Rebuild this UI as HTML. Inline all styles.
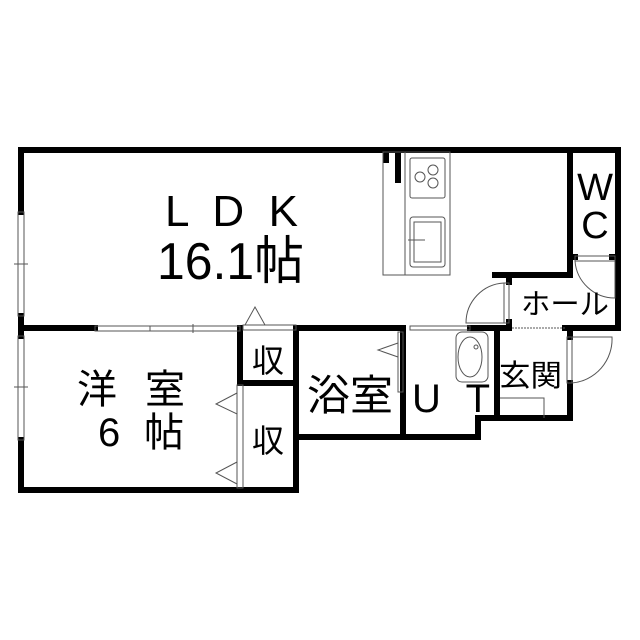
<!DOCTYPE html>
<html><head><meta charset="utf-8"><style>body{margin:0;background:#fff}svg{display:block}</style></head>
<body>
<svg width="640" height="640" viewBox="0 0 640 640" xmlns="http://www.w3.org/2000/svg" font-family="'Liberation Sans','Noto Sans CJK JP',sans-serif">
<rect width="640" height="640" fill="#fff"/>
<g stroke="#000" stroke-width="6" fill="none" stroke-linecap="square">
<line x1="21" y1="150" x2="618" y2="150"/>
<line x1="21" y1="150" x2="21" y2="212"/>
<line x1="21" y1="316" x2="21" y2="336"/>
<line x1="21" y1="440" x2="21" y2="490"/>
<line x1="21" y1="490" x2="296" y2="490"/>
<line x1="296" y1="328" x2="296" y2="490"/>
<line x1="21" y1="328" x2="95" y2="328"/>
<line x1="240" y1="328" x2="240" y2="383"/>
<line x1="240" y1="383" x2="296" y2="383"/>
<line x1="296" y1="328" x2="403" y2="328"/>
<line x1="296" y1="437" x2="478" y2="437"/>
<line x1="403" y1="328" x2="403" y2="437"/>
<line x1="478" y1="437" x2="478" y2="418"/>
<line x1="478" y1="418" x2="570" y2="418"/>
<line x1="497" y1="328" x2="497" y2="418"/>
<line x1="470" y1="328" x2="509" y2="328"/>
<line x1="570" y1="150" x2="570" y2="257"/>
<line x1="618" y1="150" x2="618" y2="328"/>
<line x1="570" y1="257" x2="575" y2="257"/>
<line x1="612" y1="257" x2="618" y2="257"/>
<line x1="495" y1="275" x2="570" y2="275"/>
<line x1="570" y1="260" x2="570" y2="275"/>
<line x1="509" y1="275" x2="509" y2="282"/>
<line x1="509" y1="322" x2="509" y2="328"/>
<line x1="565" y1="328" x2="618" y2="328"/>
<line x1="570" y1="328" x2="570" y2="337"/>
<line x1="570" y1="383" x2="570" y2="418"/>
<line x1="386" y1="150" x2="386" y2="160"/>
<line x1="398" y1="150" x2="398" y2="180"/>
</g>
<g stroke="#555" stroke-width="1" fill="none">
<rect x="18" y="212" width="6" height="104"/>
<rect x="18" y="336" width="6" height="104"/>
<line x1="14" y1="264" x2="28" y2="264"/>
<line x1="14" y1="387" x2="28" y2="387"/>
<rect x="95" y="326" width="145" height="5"/>
<line x1="150" y1="326" x2="150" y2="331"/>
<line x1="193" y1="324" x2="193" y2="333"/>
<rect x="243" y="325" width="53" height="5"/>
<polygon points="245,325 255,307 265,325"/>
<rect x="383" y="152" width="67" height="123"/>
<line x1="405" y1="152" x2="405" y2="275"/>
<rect x="410" y="158" width="35" height="40" rx="2"/>
<circle cx="420" cy="177" r="5"/><circle cx="433" cy="170" r="5"/><circle cx="433" cy="183" r="5"/>
<rect x="410" y="217" width="35" height="50" rx="3"/>
<rect x="414" y="222" width="27" height="40"/>
<line x1="408" y1="240" x2="425" y2="240"/>
<rect x="504" y="283" width="5" height="40"/>
<path d="M504 283 A40 40 0 0 0 466 323 L504 323"/>
<rect x="575" y="256" width="40" height="5"/>
<path d="M615 261 L615 298 A40 40 0 0 1 575 261"/>
<rect x="567" y="337" width="5" height="46"/>
<path d="M572 337 L612 337 A44 44 0 0 1 572 383"/>
<line x1="512" y1="328" x2="565" y2="328" stroke-dasharray="2 1"/>
<rect x="410" y="326" width="60" height="4"/>
<rect x="398" y="332" width="5" height="60"/>
<polygon points="398,343 378,350 398,357"/>
<rect x="456" y="332" width="32" height="50" rx="6"/>
<ellipse cx="470" cy="357" rx="12" ry="20"/>
<circle cx="476" cy="347" r="2"/>
<polyline points="500,398 544,398 544,418"/>
<rect x="237" y="385" width="6" height="103"/>
<polygon points="237,393 216,404 237,414"/>
<polygon points="237,462 216,473 237,484"/>
</g>
<g fill="#000">
<text x="165" y="226" font-size="44" textLength="133" lengthAdjust="spacing">L D K</text>
<text x="157" y="279" font-size="52" textLength="147" lengthAdjust="spacingAndGlyphs">16.1帖</text>
<text x="595" y="200" font-size="38" text-anchor="middle">W</text>
<text x="595" y="238" font-size="38" text-anchor="middle">C</text>
<text x="521" y="314" font-size="29" textLength="88" lengthAdjust="spacingAndGlyphs">ホール</text>
<text x="499" y="386" font-size="30" textLength="63" lengthAdjust="spacingAndGlyphs">玄関</text>
<text x="307" y="410" font-size="42" textLength="86" lengthAdjust="spacingAndGlyphs">浴室</text>
<text x="412" y="412" font-size="40" textLength="78" lengthAdjust="spacing">U T</text>
<text x="268" y="372" font-size="32" text-anchor="middle">収</text>
<text x="268" y="452" font-size="32" text-anchor="middle">収</text>
<text x="77" y="403" font-size="40" textLength="108" lengthAdjust="spacing">洋 室</text>
<text x="98" y="446" font-size="40" textLength="86" lengthAdjust="spacing">6 帖</text>
</g>
</svg>
</body></html>
